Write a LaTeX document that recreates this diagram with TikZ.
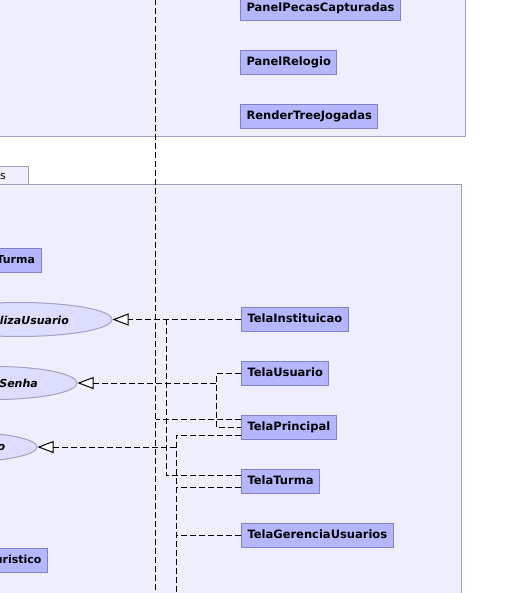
\documentclass[tikz,border=0pt]{standalone}
\usepackage{fontspec}
\setmainfont{DejaVu Sans}
\usetikzlibrary{shapes.geometric,arrows.meta}

\definecolor{pkgfill}{RGB}{238,238,252}
\definecolor{pkgdraw}{RGB}{160,160,182}
\definecolor{clsfill}{RGB}{182,182,255}
\definecolor{clsdraw}{RGB}{128,128,196}
\definecolor{ifcfill}{RGB}{221,221,255}
\definecolor{ifcdraw}{RGB}{160,160,196}

\tikzset{
  pkg/.style={draw=pkgdraw, fill=pkgfill, line width=1pt},
  cls/.style={draw=clsdraw, fill=clsfill, line width=1pt, font=\bfseries\fontsize{11.5}{13}\selectfont,
              inner xsep=6pt, inner ysep=0pt, minimum height=24pt, text height=8.5pt, text depth=2.5pt},
  edgecls/.style={cls, font=\bfseries\fontsize{11}{13}\selectfont},
  ifc/.style={ellipse, draw=ifcdraw, fill=ifcfill, line width=1pt, inner sep=0pt},
  ifctext/.style={font=\bfseries\itshape\fontsize{11}{13}\selectfont, inner sep=0pt, anchor=east},
  dep/.style={line width=1pt, dash pattern=on 6pt off 3pt},
  realize/.style={dep, -{Triangle[open, length=16pt, width=12pt, line width=1pt, fill=white]}}
}

\begin{document}
\begin{tikzpicture}[x=1pt, y=-1pt]
  \useasboundingbox (0,0) rectangle (526,593);

  % upper package
  \fill[pkgfill] (-10,-10) rectangle (465,137);
  \draw[pkg, fill=none] (-10,137) -- (465,137) -- (465,-10);

  % lower package with its tab
  \draw[pkg] (-10,167) rectangle (28,185);
  \node[font=\fontsize{11}{13}\selectfont, anchor=west, inner sep=0pt] (tabtext) at (0,176) {s};
  \draw[pkg] (-10,185) rectangle (461,610);

  % classes of the upper package
  \node[cls, anchor=west] (ppc) at (240,8.7)   {PanelPecasCapturadas};
  \node[cls, anchor=west] (prl) at (240,62.5)  {PanelRelogio};
  \node[cls, anchor=west] (rtj) at (240,116.5) {RenderTreeJogadas};

  % classes of the lower package
  \node[edgecls, anchor=east] (turma) at (41.5,260) {Turma};
  \node[edgecls, anchor=east] (heur)  at (48,560)   {uristico};

  \node[cls, anchor=west] (ti) at (241,319.5) {TelaInstituicao};
  \node[cls, anchor=west] (tu) at (241,373.5) {TelaUsuario};
  \node[cls, anchor=west] (tp) at (241,427)   {TelaPrincipal};
  \node[cls, anchor=west] (tt) at (241,481)   {TelaTurma};
  \node[cls, anchor=west] (tg) at (241,535)   {TelaGerenciaUsuarios};

  % interfaces
  \node[ifc, minimum width=186pt, minimum height=34pt] (e1) at (19,319.5) {};
  \node[ifctext] (e1t) at (69,320) {lizaUsuario};
  \node[ifc, minimum width=164pt, minimum height=33pt] (e2) at (-5,383) {};
  \node[ifctext] (e2t) at (38,383.5) {Senha};
  \node[ifc, minimum width=154pt, minimum height=30pt] (e3) at (-40,447) {};
  \node[ifctext] (e3t) at (5.5,447.5) {o};

  % routing points
  \coordinate (topend) at (155.5,-10);
  \coordinate (botend) at (155.5,610);
  \coordinate (j1) at (166,319.5);
  \coordinate (j2) at (216,383);
  \coordinate (j3) at (176,447);
  \coordinate (j3end) at (176,610);
  \coordinate (tpA) at ([yshift=8pt]tp.west);
  \coordinate (tpC) at ([yshift=-8pt]tp.west);
  \coordinate (ttA) at ([yshift=6pt]tt.west);
  \coordinate (ttB) at ([yshift=-6pt]tt.west);

  % long vertical dependency
  \draw[dep] (topend) -- (botend);
  \draw[dep] (tpA) -- (tpA -| topend);

  % realizations
  \draw[realize] (ti.west) -- (e1.east);
  \draw[dep] (ttA) -| (j1);

  \draw[dep] (tu.west) -| (j2) |- (tp.west);
  \draw[realize] (j2) -- (e2.east);

  \draw[dep] (tpC) -| (j3end);
  \draw[dep] (ttB) -- (ttB -| j3);
  \draw[dep] (tg.west) -- (tg.west -| j3);
  \draw[realize] (j3) -- (e3.east);
\end{tikzpicture}
\end{document}
